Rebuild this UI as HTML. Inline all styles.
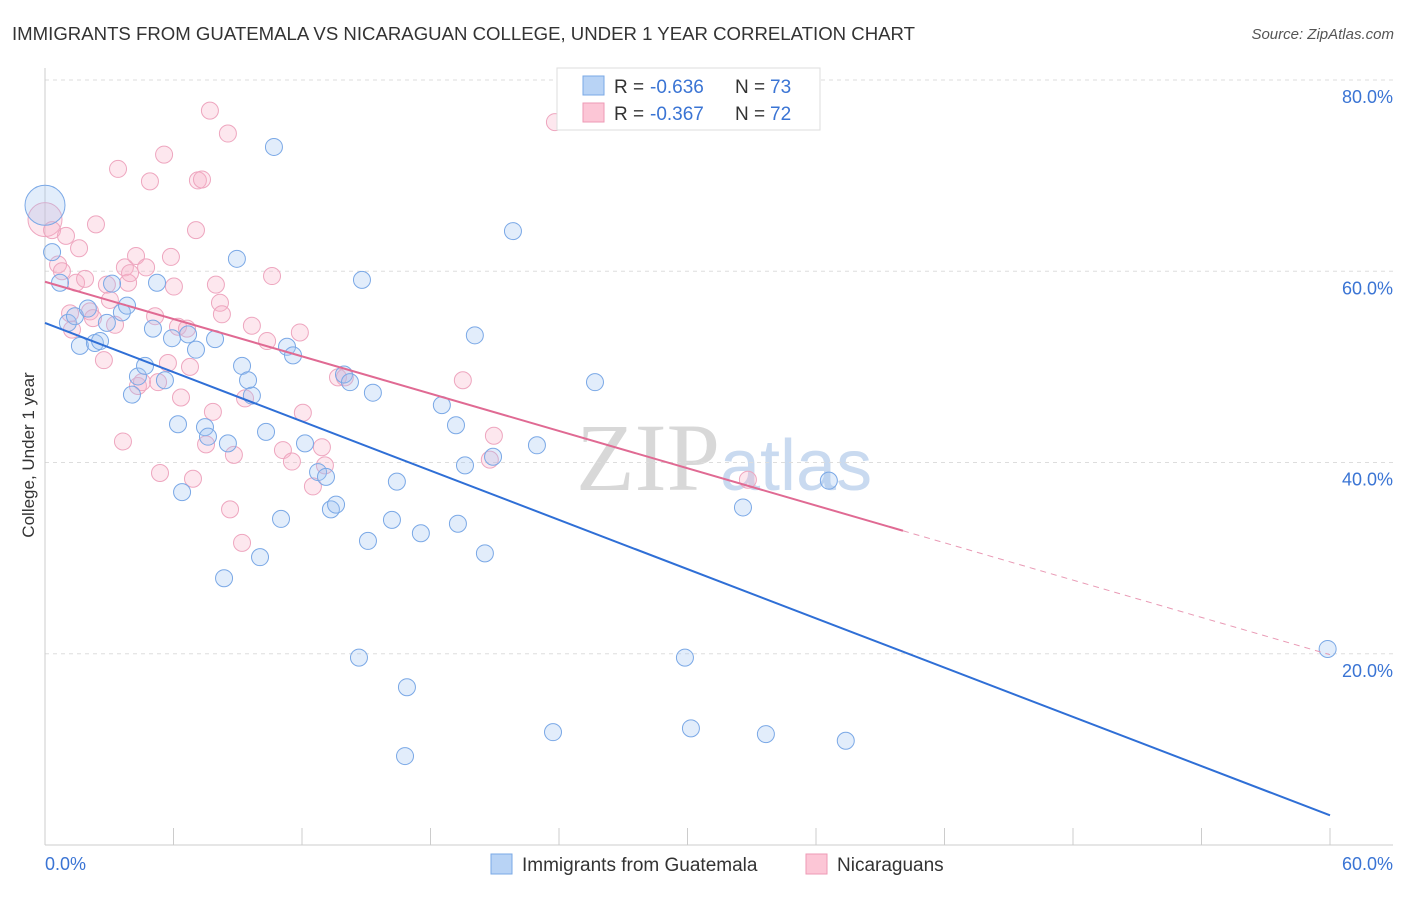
<!DOCTYPE html>
<html><head><meta charset="utf-8"><style>
body{margin:0;background:#fff;font-family:"Liberation Sans",sans-serif;}
</style></head><body>
<svg id="c" width="1406" height="892" xmlns="http://www.w3.org/2000/svg">
<text x="12" y="40" font-size="18" fill="#333" textLength="903" lengthAdjust="spacingAndGlyphs">IMMIGRANTS FROM GUATEMALA VS NICARAGUAN COLLEGE, UNDER 1 YEAR CORRELATION CHART</text>
<text x="1394" y="39" font-size="15" fill="#555" font-style="italic" text-anchor="end">Source: ZipAtlas.com</text>
<text x="720" y="490" font-size="96" fill="#d8d8d8" font-family="Liberation Serif" text-anchor="end">ZIP</text>
<text x="720" y="490" font-size="72" fill="#c9daf0">atlas</text>
<g id="grid"></g><g id="pts"></g><g id="lines"></g>
<text transform="translate(34,455) rotate(-90)" font-size="17" fill="#333" text-anchor="middle">College, Under 1 year</text>
<text x="45" y="870" font-size="18" fill="#3a74d4">0.0%</text>
<text x="1393" y="870" font-size="18" fill="#3a74d4" text-anchor="end">60.0%</text>
<g>
<rect x="557" y="68" width="263" height="62" fill="#fff" stroke="#ddd"/>
<rect x="583" y="76" width="21" height="19" fill="#b8d3f5" stroke="#7aa8e6"/>
<rect x="583" y="103" width="21" height="19" fill="#fcc6d6" stroke="#ee9ab5"/>
<text x="614" y="93" font-size="19" fill="#333">R =</text>
<text x="650" y="93" font-size="19" fill="#3a74d4">-0.636</text>
<text x="735" y="93" font-size="19" fill="#333">N =</text>
<text x="770" y="93" font-size="19" fill="#3a74d4">73</text>
<text x="614" y="120" font-size="19" fill="#333">R =</text>
<text x="650" y="120" font-size="19" fill="#3a74d4">-0.367</text>
<text x="735" y="120" font-size="19" fill="#333">N =</text>
<text x="770" y="120" font-size="19" fill="#3a74d4">72</text>
</g>
<g>
<rect x="491" y="854" width="21" height="20" fill="#b8d3f5" stroke="#7aa8e6"/>
<text x="522" y="871" font-size="19" fill="#333">Immigrants from Guatemala</text>
<rect x="806" y="854" width="21" height="20" fill="#fcc6d6" stroke="#ee9ab5"/>
<text x="837" y="871" font-size="19" fill="#333">Nicaraguans</text>
</g>
</svg>
<script>
const yTicks=[20,40,60,80];
const yTickLabels=["20.0%","40.0%","60.0%","80.0%"];
const xTicks=[0,6,12,18,24,30,36,42,48,54,60];
const blueX=[0,0.33,0.7,1.07,1.4,1.63,2.0,2.33,2.57,2.89,3.13,3.59,3.83,4.06,4.34,4.67,5.04,5.23,5.6,5.93,6.21,6.4,6.68,7.05,7.47,7.61,7.94,8.36,8.54,8.96,9.2,9.48,9.66,10.04,10.32,10.69,11.02,11.3,11.58,12.14,12.75,13.12,13.35,13.59,13.96,14.24,14.66,14.8,15.08,15.31,16.2,16.43,16.9,16.81,17.55,18.53,19.19,19.28,19.61,20.07,20.54,20.92,21.85,22.97,23.72,25.68,29.88,30.16,32.59,33.66,36.6,37.39,59.89];
const blueY=[66.9,62.0,58.8,54.6,55.3,52.2,56.1,52.5,52.7,54.6,58.7,55.7,56.4,47.1,49.0,50.1,54.0,58.8,48.6,53.0,44.0,36.9,53.4,51.8,43.7,42.7,52.9,27.9,42.0,61.3,50.1,48.6,47.0,30.1,43.2,73.0,34.1,52.1,51.2,42.0,39.0,38.5,35.1,35.6,49.2,48.4,19.6,59.1,31.8,47.3,34.0,38.0,16.5,9.3,32.6,46.0,43.9,33.6,39.7,53.3,30.5,40.6,64.2,41.8,11.8,48.4,19.6,12.2,35.3,11.6,38.1,10.9,20.5];
const pinkX=[0,0.33,0.61,0.79,0.98,1.17,1.26,1.45,1.59,1.87,2.1,2.24,2.38,2.75,2.89,3.03,3.27,3.41,3.64,3.73,3.88,3.97,4.25,4.34,4.53,4.72,4.9,5.14,5.28,5.37,5.56,5.74,5.88,6.02,6.21,6.35,6.63,6.77,6.91,7.05,7.14,7.33,7.52,7.7,7.84,7.98,8.17,8.26,8.54,8.64,8.82,9.2,9.34,9.66,10.37,10.6,11.11,11.53,11.9,12.04,12.51,12.93,13.07,13.68,14.0,19.51,20.77,20.96,23.81,32.82];
const pinkY=[65.4,64.3,60.7,60.0,63.7,55.6,53.9,58.8,62.4,59.2,55.8,55.1,64.9,50.7,58.6,57.0,54.4,70.7,42.2,60.4,58.8,59.8,61.6,48.0,48.4,60.4,69.4,55.3,48.4,38.9,72.2,50.4,61.5,58.4,54.2,46.8,54.0,50.0,38.3,64.3,69.5,69.6,41.9,76.8,45.3,58.6,56.7,55.5,74.4,35.1,40.8,31.6,46.7,54.3,52.7,59.5,41.3,40.1,53.6,45.2,37.5,41.6,39.7,48.9,48.9,48.6,40.3,42.8,75.6,38.2];
const blueFit=[54.6,3.1];
const pinkFit=[58.9,19.9];
const pinkSolidEnd=40.06;
const NS="http://www.w3.org/2000/svg";
const X=v=>45+v*(1285/60), Y=v=>845-v*9.5625;
function mk(t,a,p){const e=document.createElementNS(NS,t);for(const k in a)e.setAttribute(k,a[k]);p.appendChild(e);return e;}
const grid=document.getElementById('grid'),pts=document.getElementById('pts'),lines=document.getElementById('lines');
yTicks.forEach((t,i)=>{
 const l=mk('line',{x1:45,x2:1393,y1:Y(t),y2:Y(t),stroke:'#ddd','stroke-dasharray':'4,4'},grid);
 
 
 const tx=mk('text',{x:1393,y:Y(t)+23,'font-size':18,fill:'#3a74d4','text-anchor':'end'},grid);
 tx.textContent=yTickLabels[i];
 
 
});
const ax=mk('line',{x1:45,x2:45,y1:68,y2:845,stroke:'#ccc'},grid);


const bx=mk('line',{x1:45,x2:1393,y1:845,y2:845,stroke:'#ccc'},grid);


xTicks.forEach(t=>{const l=mk('line',{x1:X(t),x2:X(t),y1:828,y2:845,stroke:'#ccc'},grid);
 
 });
function dots(xs,ys,fill,stroke,name){xs.forEach((x,i)=>{
 const r=(i===0)?(name==='blue'?20:17):8.5;
 const c=mk('circle',{cx:X(x),cy:Y(ys[i]),r:r,fill:fill,stroke:stroke,'stroke-width':1},pts);
 
 });}
dots(pinkX,pinkY,'rgba(248,175,200,0.3)','#eea6bf','pink');
dots(blueX,blueY,'rgba(160,195,242,0.3)','#7aa8e6','blue');
const bl=mk('line',{x1:X(0),y1:Y(blueFit[0]),x2:X(60),y2:Y(blueFit[1]),stroke:'#2f6fd6','stroke-width':2},lines);


const py=x=>pinkFit[0]+(pinkFit[1]-pinkFit[0])*x/60;
const pl=mk('line',{x1:X(0),y1:Y(py(0)),x2:X(pinkSolidEnd),y2:Y(py(pinkSolidEnd)),stroke:'#e06a93','stroke-width':2},lines);


const pd=mk('line',{x1:X(pinkSolidEnd),y1:Y(py(pinkSolidEnd)),x2:X(60),y2:Y(py(60)),stroke:'#e99ab5','stroke-width':1,'stroke-dasharray':'6,5'},lines);


</script>
</body></html>
